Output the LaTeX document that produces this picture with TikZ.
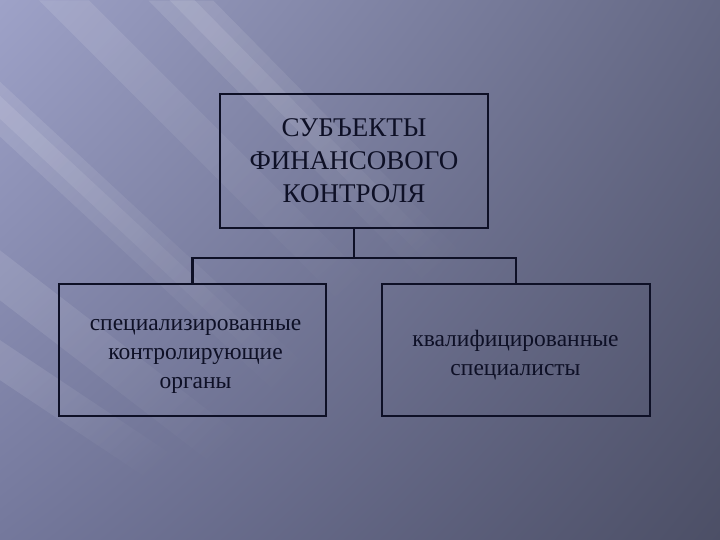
\documentclass[tikz,border=0pt]{standalone}
\usepackage{fontspec}
\setmainfont{Liberation Serif}
\usetikzlibrary{shadings,fadings}
\definecolor{bgTL}{RGB}{158,162,200}
\definecolor{bgTR}{RGB}{100,104,132}
\definecolor{bgBL}{RGB}{116,120,156}
\definecolor{bgBR}{RGB}{76,79,102}
\definecolor{ink}{RGB}{14,16,38}
\tikzfading[name=streakfade, left color=transparent!30, middle color=transparent!45, right color=transparent!100]
\tikzset{
  box/.style={draw=ink, line width=2.4pt, inner sep=0pt},
  lbl/.style={text=ink, align=center, inner sep=0pt},
  link/.style={draw=ink, line width=2.2pt},
  streak/.style={fill=white, opacity=0.15, path fading=streakfade, fading angle=-45}
}
\begin{document}
\begin{tikzpicture}[x=1pt,y=-1pt]
\useasboundingbox (0,0) rectangle (720,540);
\shade[upper left=bgTL, upper right=bgTR, lower left=bgBL, lower right=bgBR] (0,0) rectangle (720,540);
% diagonal light streaks
\fill[streak] (150,0) -- (215,0) -- (520,310) -- (455,310) -- cycle;
\fill[streak] (170,0) -- (195,0) -- (500,310) -- (475,310) -- cycle;
\fill[streak] (40,0) -- (90,0) -- (430,340) -- (380,340) -- cycle;
\fill[streak] (0,80) -- (0,135) -- (340,450) -- (340,395) -- cycle;
\fill[streak] (0,95) -- (0,118) -- (330,425) -- (330,402) -- cycle;
\fill[streak] (0,250) -- (0,300) -- (260,500) -- (260,450) -- cycle;
\fill[streak] (0,340) -- (0,380) -- (180,500) -- (180,460) -- cycle;
% boxes
\node[box, minimum width=268pt, minimum height=134pt] (top) at (354,161) {};
\node[lbl, font=\fontsize{27}{33}\selectfont] (topText) at (354,161) {СУБЪЕКТЫ\\ФИНАНСОВОГО\\КОНТРОЛЯ};
\node[box, minimum width=267pt, minimum height=132pt] (left) at (192.5,350) {};
\node[lbl, font=\fontsize{23.5}{29}\selectfont] (leftText) at (195.5,356) {специализированные\\контролирующие\\органы};
\node[box, minimum width=268pt, minimum height=132pt] (right) at (516,350) {};
\node[lbl, font=\fontsize{23.5}{29}\selectfont] (rightText) at (515.5,355) {квалифицированные\\специалисты};
\coordinate (mid) at (354,258);
\draw[link] (top.south) -- (mid);
\draw[link] (left.north) -- (left.north |- mid) -- (right.north |- mid) -- (right.north);
\end{tikzpicture}
\end{document}
